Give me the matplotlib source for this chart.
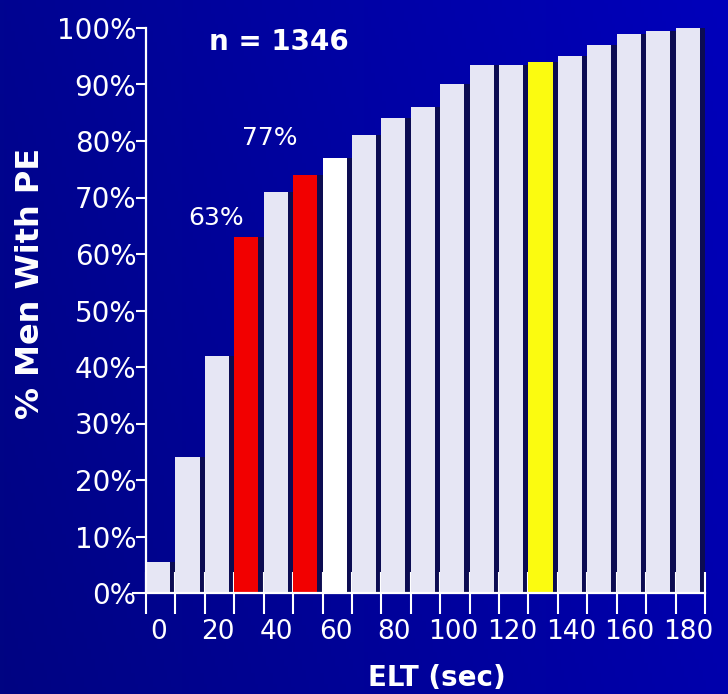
import matplotlib
matplotlib.use('Agg')
from matplotlib import pyplot as plt
import numpy as np

# ejaculatory latency time bins (seconds) and cumulative share of men
elt_sec = [0, 10, 20, 30, 40, 50, 60, 70, 80, 90,
           100, 110, 120, 130, 140, 150, 160, 170, 180]
pct_men = [5.5, 24, 42, 63, 71, 74, 77, 81, 84, 86,
           90, 93.5, 93.5, 94, 95, 97, 99, 99.5, 100]
elt_labels = [0, 20, 40, 60, 80, 100, 120, 140, 160, 180]
pct_ticks = [0, 10, 20, 30, 40, 50, 60, 70, 80, 90, 100]
n_men = 1346
callouts = [30, 60]

bar_color = '#e6e6f4'
highlight = {30: '#f20000', 50: '#f20000', 60: '#ffffff', 130: '#fbfb10'}
shadow_color = '#0c0c52'
bin_w = 10
bar_w = 8.2

fig = plt.figure(figsize=(7.28, 6.94), dpi=100)

# navy background, a little brighter towards the upper right
bg = fig.add_axes([0, 0, 1, 1], zorder=-1)
xf = np.linspace(0, 1, 200)[None, :]
yf = np.linspace(0, 1, 200)[:, None]
blue = (130 + 42 * xf + 15 * (1 - yf)) / 255.
img = np.zeros((200, 200, 3))
img[..., 1] = 4 / 255. * (1 - xf)
img[..., 2] = blue
bg.imshow(img, aspect='auto', extent=[0, 1, 0, 1])
bg.axis('off')

ax = fig.add_axes([146 / 728, 101 / 694, 559 / 728, 565 / 694])
ax.set_facecolor('none')

colors = [highlight.get(e, bar_color) for e in elt_sec]
ax.bar(np.array(elt_sec) + 1.8, pct_men, width=bar_w, align='edge',
       color=shadow_color, zorder=1, clip_on=False)
ax.bar(elt_sec, pct_men, width=bar_w, align='edge',
       color=colors, zorder=2, clip_on=False)

ax.set_xlim(0, elt_sec[-1] + bin_w)
ax.set_ylim(0, 100)

for s in ['top', 'right']:
    ax.spines[s].set_visible(False)
for s in ['left', 'bottom']:
    ax.spines[s].set_color('white')
    ax.spines[s].set_linewidth(1.6)
    ax.spines[s].set_zorder(3)

# bin edges get the tick marks, every other bin centre gets a label
ax.set_xticks(list(elt_sec) + [elt_sec[-1] + bin_w])
ax.set_xticklabels([])
ax.set_xticks([e + 4.4 for e in elt_labels], minor=True)
ax.set_xticklabels([str(e) for e in elt_labels], minor=True)
ax.tick_params(axis='x', which='major', direction='inout', length=30,
               width=1.5, color='white')
ax.tick_params(axis='x', which='minor', length=0, pad=19,
               labelsize=19, labelcolor='white')

ax.set_yticks(pct_ticks)
ax.set_yticklabels(['%d%%' % p for p in pct_ticks])
ax.tick_params(axis='y', direction='out', length=7, width=1.5,
               color='white', labelsize=20, labelcolor='white', pad=0)
# the 0% tick runs on as the baseline
ax.yaxis.get_major_ticks()[0].tick1line.set_markersize(10)

fig.text(31 / 728, 1 - 283 / 694, '% Men With PE', fontsize=23,
         fontweight='bold', color='white', rotation=90,
         ha='center', va='center')
fig.text(437 / 728, 1 - 678 / 694, 'ELT (sec)', fontsize=20,
         fontweight='bold', color='white', ha='center', va='center')

ax.text(45, 97.5, 'n = %d' % n_men, fontsize=20, fontweight='bold',
        color='white', ha='center', va='center')

offsets = {30: (-6.2, 3.3), 60: (-18, 3.5)}
for e in callouts:
    v = pct_men[elt_sec.index(e)]
    dx, dy = offsets[e]
    ax.text(e + dx, v + dy, '%d%%' % round(v), fontsize=18,
            color='white', ha='center', va='center')

plt.savefig('out.png', dpi=100)
